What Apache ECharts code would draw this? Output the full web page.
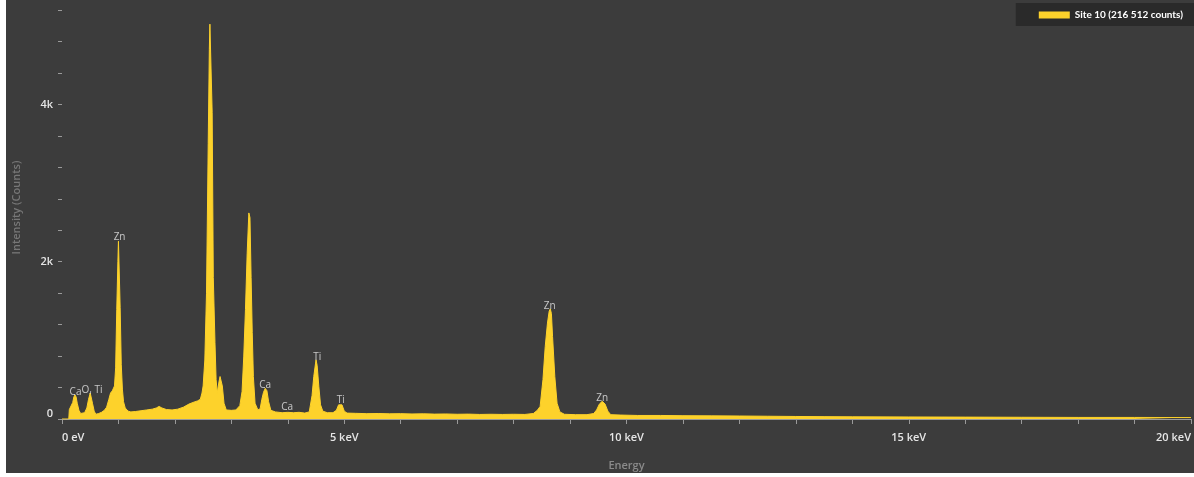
<!DOCTYPE html>
<html>
<head>
<meta charset="utf-8">
<script src="https://cdn.jsdelivr.net/npm/echarts@6/dist/echarts.min.js"></script>
<style>
  html, body { margin: 0; padding: 0; background: #ffffff; width: 1194px; height: 477px; overflow: hidden; }
  #chart { position: absolute; left: 6px; top: 0; width: 1188px; height: 473px; }
</style>
</head>
<body>
<div id="chart"></div>
<script>
// ---- Data ----
const seriesName = 'Site 10 (216 512 counts)';

// Energy (keV) of each spectrum sample
const energy = [
  0.00, 0.12, 0.13, 0.16, 0.19, 0.21, 0.23, 0.25, 0.27, 0.30, 0.33, 0.36, 0.40, 0.44, 0.47, 0.50, 0.52, 0.54, 0.57, 0.60,
  0.65, 0.70, 0.75, 0.79, 0.83, 0.86, 0.89, 0.91, 0.93, 0.95, 0.97, 0.99, 1.00, 1.02, 1.03, 1.05, 1.07, 1.09, 1.12, 1.17,
  1.22, 1.30, 1.40, 1.50, 1.60, 1.67, 1.72, 1.77, 1.85, 1.95, 2.05, 2.15, 2.25, 2.32, 2.40, 2.45, 2.48, 2.50, 2.53, 2.56,
  2.59, 2.61, 2.62, 2.64, 2.66, 2.68, 2.71, 2.73, 2.75, 2.78, 2.80, 2.82, 2.84, 2.87, 2.91, 3.00, 3.08, 3.15, 3.19, 3.22,
  3.25, 3.28, 3.31, 3.33, 3.35, 3.37, 3.39, 3.42, 3.47, 3.51, 3.54, 3.57, 3.60, 3.63, 3.66, 3.70, 3.78, 3.90, 4.00, 4.10,
  4.20, 4.30, 4.38, 4.43, 4.46, 4.49, 4.50, 4.52, 4.55, 4.58, 4.62, 4.70, 4.80, 4.86, 4.90, 4.93, 4.96, 5.00, 5.05, 5.20,
  5.40, 5.60, 5.80, 6.00, 6.20, 6.40, 6.60, 6.80, 7.00, 7.20, 7.40, 7.60, 7.80, 8.00, 8.20, 8.35, 8.42, 8.47, 8.52, 8.56,
  8.60, 8.63, 8.65, 8.67, 8.69, 8.73, 8.77, 8.82, 8.90, 9.10, 9.30, 9.42, 9.47, 9.52, 9.57, 9.62, 9.67, 9.72, 9.90, 10.2,
  10.6, 11.0, 11.5, 12.0, 12.5, 13.0, 13.5, 14.0, 15.0, 16.0, 17.0, 18.0, 19.0, 20.0
];

// Counts at each energy
const counts = [
  0, 0, 120, 140, 210, 280, 306, 280, 200, 110, 70, 60, 80, 140, 250, 330, 310, 200, 100, 60,
  70, 85, 110, 150, 250, 330, 357, 345, 420, 650, 1390, 2000, 2260, 2280, 1420, 690, 380, 220, 140, 100,
  90, 95, 105, 115, 125, 140, 160, 140, 120, 115, 125, 150, 190, 210, 230, 250, 330, 420, 750, 1600,
  3500, 4700, 5020, 5000, 3900, 1800, 970, 500, 330, 470, 540, 520, 420, 200, 115, 110, 115, 170, 350, 800,
  1390, 2100, 2620, 2560, 1800, 1100, 540, 200, 115, 130, 250, 340, 390, 360, 220, 110, 90, 80, 85, 80,
  85, 75, 90, 300, 540, 700, 752, 680, 410, 180, 100, 80, 80, 110, 180, 205, 180, 100, 75, 72,
  68, 70, 66, 68, 64, 66, 62, 64, 60, 62, 58, 60, 58, 60, 58, 70, 110, 160, 500, 920,
  1220, 1370, 1400, 1340, 1050, 540, 200, 90, 60, 55, 55, 70, 115, 190, 225, 190, 100, 55, 50, 45,
  45, 42, 40, 38, 35, 32, 30, 28, 26, 24, 22, 20, 20, 18
];

// Element labels placed on peaks
const peakNames  = ['Ca', 'O, Ti', 'Zn', 'Ca', 'Ca', 'Ti', 'Ti', 'Zn', 'Zn'];
const peakEnergy = [0.24, 0.53, 1.02, 3.60, 3.99, 4.52, 4.94, 8.64, 9.57];
const peakCounts = [306, 330, 2280, 390, 110, 752, 205, 1400, 225];

// Axis tick labels
const xLabelMap = { 0: '0 eV', 5: '5 keV', 10: '10 keV', 15: '15 keV', 20: '20 keV' };
const yLabelMap = { 0: '0', 2000: '2k', 4000: '4k' };

// ---- Build chart ----
const yellow = '#FDD22B';
const spectrum = energy.map((e, i) => [e, counts[i]]);
const peaks = peakEnergy.map((e, i) => ({ value: [e, peakCounts[i]], name: peakNames[i] }));

const chart = echarts.init(document.getElementById('chart'), null, { renderer: 'canvas' });
chart.setOption({
  backgroundColor: '#3c3c3c',
  animation: false,
  textStyle: { fontFamily: 'Open Sans' },
  grid: { left: 56, right: 3, top: 10, bottom: 54, containLabel: false, outerBoundsMode: 'none' },
  legend: {
    data: [seriesName],
    right: 0,
    top: 3,
    backgroundColor: '#2a2a2a',
    padding: [7, 11, 6, 23],
    itemWidth: 31,
    itemHeight: 7,
    icon: 'rect',
    textStyle: { color: '#ffffff', fontSize: 10, fontWeight: 'bold', fontFamily: 'Lato' }
  },
  xAxis: {
    type: 'value',
    min: 0,
    max: 20,
    interval: 1,
    name: 'Energy',
    nameLocation: 'middle',
    nameGap: 41,
    nameTextStyle: { color: '#8a8a8a', fontSize: 11, fontWeight: 600 },
    axisLine: { show: true, lineStyle: { color: '#9a9a9a', width: 1 } },
    axisTick: { show: true, length: 5, lineStyle: { color: '#9a9a9a' } },
    splitLine: { show: false },
    axisLabel: {
      color: '#e6e6e6', fontSize: 11, fontWeight: 600, margin: 13,
      alignMinLabel: 'left', alignMaxLabel: 'right',
      formatter: v => (xLabelMap[v] !== undefined ? xLabelMap[v] : '')
    }
  },
  yAxis: {
    type: 'value',
    min: 0,
    max: 5200,
    interval: 400,
    name: 'Intensity (Counts)',
    nameLocation: 'middle',
    nameGap: 40,
    nameTextStyle: { color: '#777777', fontSize: 11, fontWeight: 600, padding: [0, 0, 0, 14] },
    axisLine: { show: false },
    axisTick: { show: true, length: 4, lineStyle: { color: '#9a9a9a' } },
    splitLine: { show: false },
    axisLabel: {
      color: '#e6e6e6', fontSize: 11, fontWeight: 600, margin: 9,
      verticalAlignMinLabel: 'bottom',
      formatter: v => (yLabelMap[v] !== undefined ? yLabelMap[v] : '')
    }
  },
  series: [
    {
      name: seriesName,
      type: 'line',
      data: spectrum,
      symbol: 'none',
      itemStyle: { color: yellow },
      lineStyle: { color: yellow, width: 1 },
      areaStyle: { color: yellow, opacity: 1 },
      z: 2
    },
    {
      name: 'peaks',
      type: 'scatter',
      data: peaks,
      symbolSize: 0,
      silent: true,
      label: {
        show: true,
        position: 'top',
        distance: -2,
        formatter: p => p.name,
        color: '#e8e8e8',
        fontSize: 10,
        fontFamily: 'Open Sans'
      },
      z: 3
    }
  ]
});
</script>
</body>
</html>
